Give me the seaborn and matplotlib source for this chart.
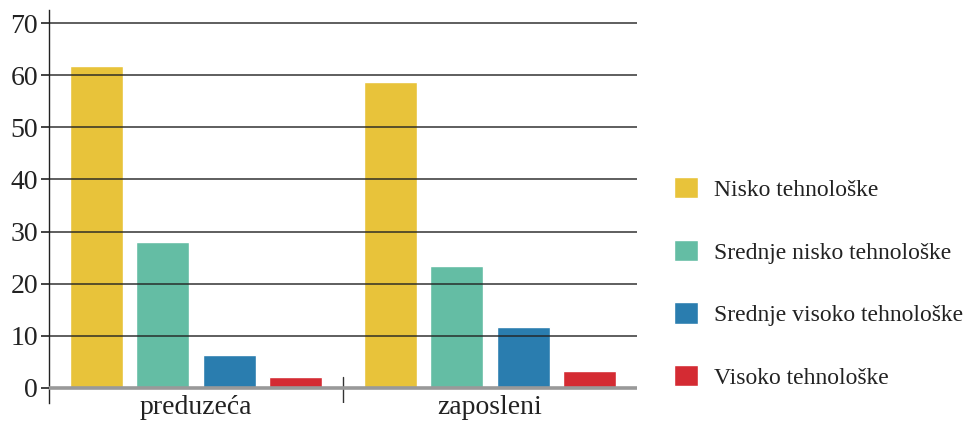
import matplotlib.pyplot as plt
import pandas as pd
import seaborn as sns

categories = ["preduzeća", "zaposleni"]
groups = ["Nisko tehnološke", "Srednje nisko tehnološke", "Srednje visoko tehnološke", "Visoko tehnološke"]
values_preduzeca = [61.7, 28.0, 6.3, 2.1]
values_zaposleni = [58.6, 23.4, 11.7, 3.3]
colors = ["#E8C33A", "#64BDA4", "#2A7DAF", "#D42B33"]
yticks = [0, 10, 20, 30, 40, 50, 60, 70]

sns.set_style("white")
plt.rcParams["font.family"] = ["Liberation Serif", "DejaVu Serif"]

df = pd.DataFrame({
    "Kategorija": [categories[0]] * 4 + [categories[1]] * 4,
    "Grupa": groups + groups,
    "Vrednost": values_preduzeca + values_zaposleni,
})

fig = plt.figure(figsize=(9.66, 4.23), dpi=100)
ax = fig.add_axes([49 / 966, 20 / 423, 588 / 966, 393 / 423])

sns.barplot(
    data=df, x="Kategorija", y="Vrednost", hue="Grupa", order=categories,
    hue_order=groups, palette=colors, saturation=1, width=0.9, gap=0.2,
    ax=ax, errorbar=None,
)

ax.set_xlim(-0.5, 1.5)
ax.set_ylim(-2.9, 72.5)
ax.set_yticks(yticks)
ax.set_axisbelow(False)
ax.yaxis.grid(True, color="#222222", linewidth=1.2, alpha=0.85)
ax.axhline(0, color="#999999", linewidth=2.6, zorder=3)
ax.axvline(0.5, ymin=0.0, ymax=0.065, color="#333333", linewidth=1.0)

for side in ["top", "right", "bottom"]:
    ax.spines[side].set_visible(False)
ax.spines["left"].set_color("#222222")
ax.spines["left"].set_linewidth(1.0)

ax.tick_params(axis="y", left=True, length=6, width=1.2, color="#222222",
               labelsize=20, pad=2, labelcolor="#222222")
ax.tick_params(axis="x", bottom=False, labelsize=20, pad=-9, labelcolor="#222222")
ax.set_xlabel("")
ax.set_ylabel("")

handles, labels = ax.get_legend_handles_labels()
ax.get_legend().remove()
fig.legend(handles, labels, loc="center left", bbox_to_anchor=(653 / 966, 1 - 283 / 423),
           frameon=False, fontsize=17, handlelength=1.0, handleheight=1.0,
           labelspacing=1.65, handletextpad=0.7, labelcolor="#222222")

fig.savefig("out.png", dpi=100)
